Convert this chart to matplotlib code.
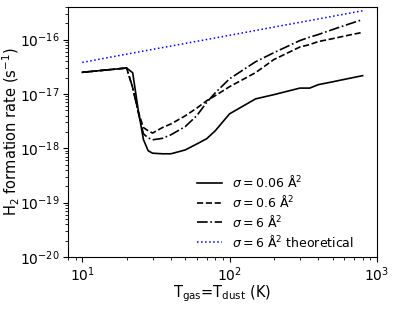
import matplotlib
matplotlib.use("Agg")
import matplotlib.pyplot as plt

# temperatures (K), T_gas = T_dust
temps = [10, 20, 22, 24, 26, 28, 30, 35, 40, 50, 60, 70, 80, 100, 150,
         200, 300, 350, 400, 500, 600, 800]

# H2 formation rates (s^-1)
rate_006 = [2.5e-17, 3.0e-17, 2.45e-17, 5.0e-18, 1.45e-18, 9.0e-19, 8.1e-19,
            7.9e-19, 7.9e-19, 9.3e-19, 1.2e-18, 1.5e-18, 2.1e-18, 4.3e-18,
            8.1e-18, 9.7e-18, 1.28e-17, 1.28e-17, 1.48e-17, 1.67e-17,
            1.85e-17, 2.17e-17]
rate_06 = [2.5e-17, 3.0e-17, 1.3e-17, 4.7e-18, 2.4e-18, 2.1e-18, 1.9e-18,
           2.4e-18, 2.8e-18, 3.95e-18, 5.5e-18, 7.5e-18, 9.3e-18, 1.36e-17,
           2.46e-17, 4.3e-17, 7.3e-17, 8.1e-17, 9.2e-17, 1.04e-16,
           1.16e-16, 1.36e-16]
rate_6 = [2.5e-17, 3.0e-17, 1.3e-17, 4.5e-18, 1.85e-18, 1.55e-18, 1.43e-18,
          1.52e-18, 1.77e-18, 2.5e-18, 4.0e-18, 7.0e-18, 1.05e-17, 1.9e-17,
          3.9e-17, 5.75e-17, 9.6e-17, 1.11e-16, 1.24e-16, 1.53e-16,
          1.81e-16, 2.34e-16]

temps_theo = [10, 20, 50, 100, 200, 400, 800]
rate_theo = [3.8e-17, 5.4e-17, 8.5e-17, 1.2e-16, 1.7e-16, 2.4e-16, 3.4e-16]

fig = plt.figure(figsize=(3.93, 3.14), dpi=100)
ax = fig.add_axes([0.173, 0.182, 0.786, 0.796])

ax.plot(temps, rate_006, color="black", linestyle="-", lw=1.2,
        label=r"$\sigma = 0.06$ Å$^2$")
ax.plot(temps, rate_06, color="black", linestyle="--", lw=1.2,
        label=r"$\sigma = 0.6$ Å$^2$")
ax.plot(temps, rate_6, color="black", linestyle="-.", lw=1.2,
        label=r"$\sigma = 6$ Å$^2$")
ax.plot(temps_theo, rate_theo, color="blue", linestyle=":", lw=1.1,
        label=r"$\sigma = 6$ Å$^2$ theoretical")

ax.set_xscale("log")
ax.set_yscale("log")
ax.set_xlim(8, 1000)
ax.set_ylim(1e-20, 4e-16)

ax.set_xlabel(r"T$_{\rm gas}$=T$_{\rm dust}$ (K)", fontsize=10.5)
ax.set_ylabel(r"H$_2$ formation rate (s$^{-1}$)", fontsize=10.5)
ax.tick_params(labelsize=10, pad=2.5)
ax.xaxis.set_label_coords(0.5, -0.105)
ax.yaxis.set_label_coords(-0.15, 0.5)

ax.legend(loc="lower right", bbox_to_anchor=(0.963, -0.016), frameon=False,
          fontsize=9, handlelength=2.0, labelspacing=0.3)

fig.savefig("out.png", dpi=100)
